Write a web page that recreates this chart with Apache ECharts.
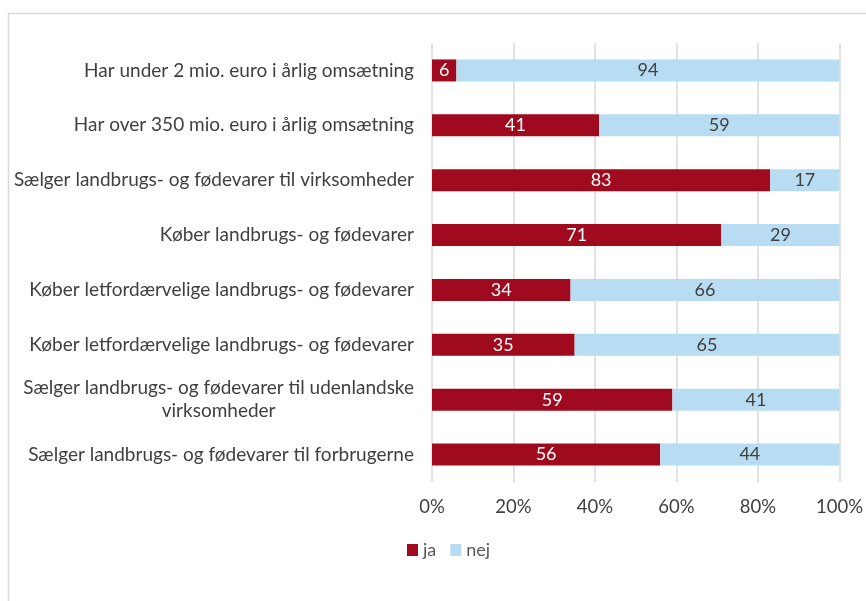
<!DOCTYPE html>
<html>
<head>
<meta charset="utf-8">
<script src="https://cdn.jsdelivr.net/npm/echarts@6/dist/echarts.min.js"></script>
<style>
  html, body { margin: 0; padding: 0; background: #fff; }
  #chart { width: 866px; height: 601px; }
</style>
</head>
<body>
<div id="chart"></div>
<script>
const categories = [
    'Har under 2 mio. euro i årlig omsætning',
    'Har over 350 mio. euro i årlig omsætning',
    'Sælger landbrugs- og fødevarer til virksomheder',
    'Køber landbrugs- og fødevarer',
    'Køber letfordærvelige landbrugs- og fødevarer',
    'Køber letfordærvelige landbrugs- og fødevarer',
    'Sælger landbrugs- og fødevarer til udenlandske\nvirksomheder',
    'Sælger landbrugs- og fødevarer til forbrugerne'
];
const jaValues = [6, 41, 83, 71, 34, 35, 59, 56];
const nejValues = [94, 59, 17, 29, 66, 65, 41, 44];
const xTicks = [0, 20, 40, 60, 80, 100];

const fontFamily = 'Lato, "Open Sans", sans-serif';
const textColor = '#404040';

const chart = echarts.init(document.getElementById('chart'));
chart.setOption({
    animation: false,
    textStyle: { fontFamily: fontFamily },
    color: ['#A00A1E', '#B8DDF2'],
    graphic: [{
        type: 'rect',
        shape: { x: 8.5, y: 13.5, width: 900, height: 700 },
        style: { fill: 'none', stroke: '#d9d9d9', lineWidth: 1.5 },
        silent: true
    }],
    legend: {
        left: 402,
        top: 536,
        itemWidth: 11,
        itemHeight: 12,
        itemGap: 14,
        icon: 'rect',
        textStyle: { color: '#595959', fontSize: 18, fontFamily: fontFamily },
        data: ['ja', 'nej']
    },
    grid: { left: 432, right: 26, top: 43, bottom: 119, containLabel: false },
    xAxis: {
        type: 'value',
        min: xTicks[0],
        max: xTicks[xTicks.length - 1],
        interval: 20,
        axisLine: { show: false },
        axisTick: { show: false },
        splitLine: { lineStyle: { color: '#d9d9d9', width: 1.5 } },
        axisLabel: {
            formatter: '{value}%',
            color: textColor,
            fontSize: 18.5,
            margin: 16
        }
    },
    yAxis: {
        type: 'category',
        inverse: true,
        data: categories,
        axisLine: { show: false },
        axisTick: { show: false },
        axisLabel: {
            color: textColor,
            fontSize: 19,
            margin: 18,
            lineHeight: 23,
            formatter: function (value) {
                if (value.indexOf('\n') >= 0) {
                    return value.split('\n').map(s => '{c|' + s + '}').join('\n');
                }
                return value;
            },
            rich: {
                c: { align: 'center', color: textColor, fontSize: 19, lineHeight: 23, fontFamily: fontFamily }
            }
        }
    },
    series: [{
        name: 'ja',
        type: 'bar',
        stack: 'total',
        barWidth: 22,
        data: jaValues,
        label: { show: true, position: 'inside', color: '#fff', fontSize: 18 }
    }, {
        name: 'nej',
        type: 'bar',
        stack: 'total',
        barWidth: 22,
        data: nejValues,
        label: { show: true, position: 'inside', color: textColor, fontSize: 18 }
    }]
});
</script>
</body>
</html>
